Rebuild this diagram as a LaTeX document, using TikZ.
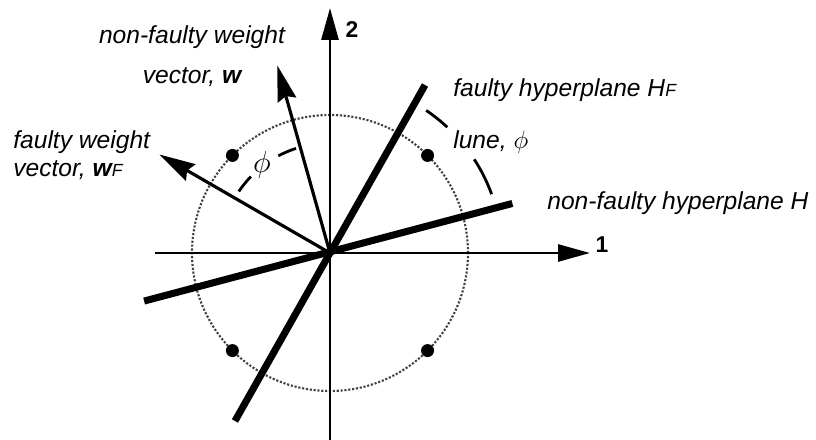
\documentclass[tikz,border=0pt]{standalone}
\usepackage{fontspec}
\setmainfont{Liberation Sans}
\usetikzlibrary{arrows.meta}
\newcommand{\subF}{{\fontsize{10}{10}\selectfont F}}
\begin{document}
\begin{tikzpicture}[x=0.02cm,y=0.02cm,font=\fontsize{14}{17}\selectfont\itshape,
  axis/.style={line width=1.6pt,-{Triangle[length=0.64cm,width=0.34cm]}},
  plane/.style={line width=4pt},
  wvec/.style={line width=1.8pt,-{Stealth[length=0.72cm,width=0.38cm,inset=0.08cm]}},
  gaparc/.style={line width=1.6pt},
  lbl/.style={inner sep=0pt}]
\useasboundingbox (-330,-187) rectangle (486,253);
\coordinate (o) at (0,0);
\coordinate (x0) at (-175,0);
\coordinate (x1) at (260,0);
\coordinate (y0) at (0,-187);
\coordinate (y1) at (0,245);
\coordinate (hf0) at (240.5:193);
\coordinate (hf1) at (60.5:193);
\coordinate (h0) at (194.5:192);
\coordinate (h1) at (15.2:189);
\coordinate (w) at (105.7:195);
\coordinate (wf) at (150:197);
% unit circle
\draw[densely dotted,line width=1.2pt,black!75] (o) circle[radius=138];
\draw[axis] (x0) -- (x1);
\draw[axis] (y0) -- (y1);
% angle between the weight vectors
\draw[gaparc] (108:110) arc[start angle=108,end angle=118,radius=110];
\draw[gaparc] (136:110) arc[start angle=136,end angle=146,radius=110];
% lune between the hyperplanes
\draw[gaparc] (20:172) arc[start angle=20,end angle=33,radius=172];
\draw[gaparc] (47:172) arc[start angle=47,end angle=56,radius=172];
\draw[wvec] (o) -- (w);
\draw[wvec] (o) -- (wf);
\draw[plane] (hf0) -- (hf1);
\draw[plane] (h0) -- (h1);
\foreach \a in {45,135,225,315}{\fill (\a:138) circle[radius=6.5];}
\node[lbl,font=\fontsize{13}{15}\selectfont\bfseries] (n1) at (272,8) {1};
\node[lbl,font=\fontsize{13}{15}\selectfont\bfseries] (n2) at (22,223) {2};
\node[lbl,align=center] (lw) at (-138,197) {non-faulty weight\\[6pt] vector, \textbf{w}};
\node[lbl,align=left,anchor=west] (lwf) at (-317,98) {faulty weight\\[-1pt] vector, \textbf{w}\subF};
\node[lbl,anchor=west] (lhf) at (123,163) {faulty hyperplane H\subF};
\node[lbl,anchor=west] (lh) at (217,50) {non-faulty hyperplane H};
\node[lbl,anchor=west] (llune) at (123,111) {lune, $\phi$};
\node[lbl,font=\fontsize{17}{17}\selectfont] (phi) at (-68,88) {$\phi$};
\end{tikzpicture}
\end{document}
